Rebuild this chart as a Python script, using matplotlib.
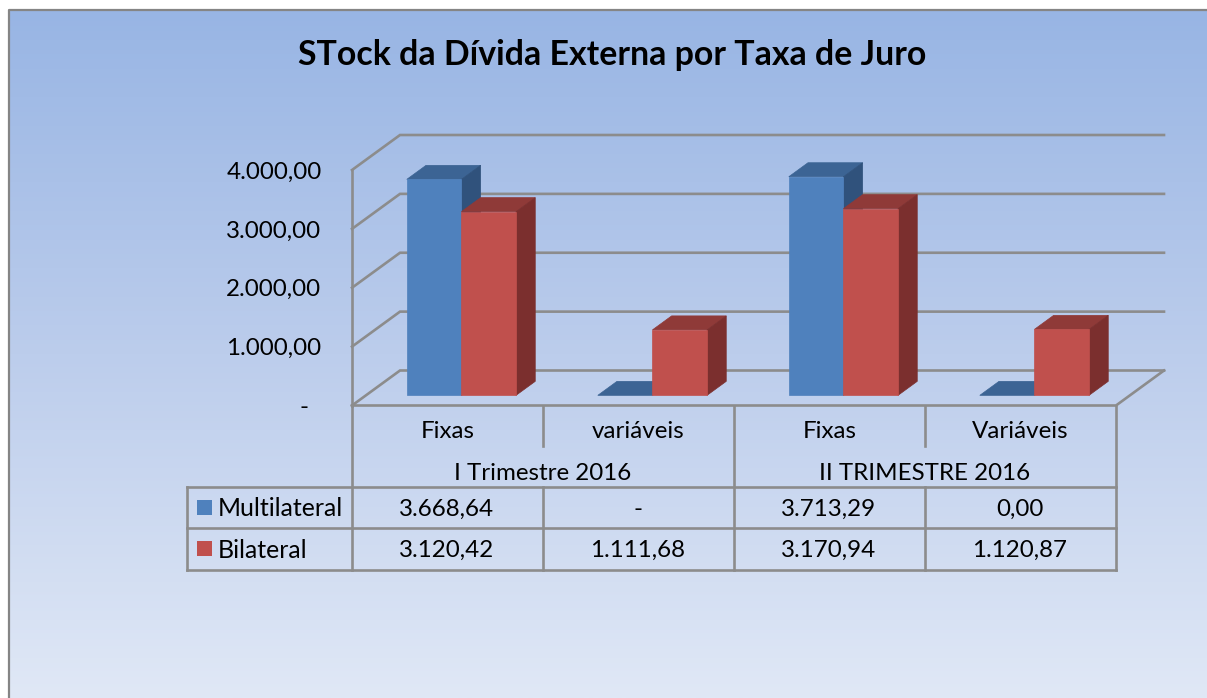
import numpy as np
import matplotlib
matplotlib.use('Agg')
import matplotlib.pyplot as plt
from matplotlib.colors import LinearSegmentedColormap
from matplotlib.patches import Polygon, Rectangle

plt.rcParams['font.family'] = ['Lato', 'DejaVu Sans']

categories = ['Fixas', 'variáveis', 'Fixas', 'Variáveis']
periods = ['I Trimestre 2016', 'II TRIMESTRE 2016']
multilateral = [3668.64, 0.0, 3713.29, 0.0]
bilateral = [3120.42, 1111.68, 3170.94, 1120.87]
multilateral_txt = ['3.668,64', '-', '3.713,29', '0,00']
bilateral_txt = ['3.120,42', '1.111,68', '3.170,94', '1.120,87']
y_ticks = [0, 1000, 2000, 3000, 4000]
y_labels = ['-  ', '1.000,00', '2.000,00', '3.000,00', '4.000,00']

W, H = 1207, 698
LINE = '#8c8c8c'
BLUE = ('#4f81bd', '#3c6494', '#30527c')
RED = ('#c0504d', '#8f3a38', '#7b2f2e')
LW = 1.9

fig = plt.figure(figsize=(W / 100, H / 100), dpi=100, facecolor='white')

# page in pixel coords: background, frame, data table
page = fig.add_axes([0, 0, 1, 1])
page.set_xlim(0, W)
page.set_ylim(H, 0)
page.axis('off')
cmap = LinearSegmentedColormap.from_list('bg', ['#98b5e4', '#bccdec', '#e0e8f6'])
page.imshow(np.linspace(0, 1, 256).reshape(-1, 1), cmap=cmap, aspect='auto',
            extent=(9, W, H, 10), zorder=0)
page.set_xlim(0, W)
page.set_ylim(H, 0)
page.plot([9, 9, W], [H, 10, 10], color='#858585', lw=1.6, zorder=1)

cols = [351.5, 542.5, 733.5, 924.5, 1115.5]
rows = [406, 446, 487, 528, 570]
for y in rows[2:]:
    page.plot([187, cols[-1]], [y, y], color=LINE, lw=LW, zorder=2)
page.plot([187, 187], [rows[2], rows[4]], color=LINE, lw=LW, zorder=2)
for i, x in enumerate(cols):
    if i % 2 == 0:
        page.plot([x, x], [rows[0], rows[4]], color=LINE, lw=LW, zorder=2)
    else:
        page.plot([x, x], [rows[0], rows[1]], color=LINE, lw=LW, zorder=2)
        page.plot([x, x], [rows[2], rows[4]], color=LINE, lw=LW, zorder=2)

FS = 17.4
for i, name in enumerate(periods):
    page.text((cols[2 * i] + cols[2 * i + 2]) / 2, 473.5, name, ha='center', va='center', fontsize=FS)
for i in range(4):
    xc = (cols[i] + cols[i + 1]) / 2
    page.text(xc, 509, multilateral_txt[i], ha='center', va='center', fontsize=FS)
    page.text(xc, 550, bilateral_txt[i], ha='center', va='center', fontsize=FS)

page.add_patch(Rectangle((197, 500), 15, 15, color=BLUE[0], lw=0, zorder=3))
page.add_patch(Rectangle((197, 541), 15, 15, color=RED[0], lw=0, zorder=3))
page.text(218, 509, 'Multilateral', ha='left', va='center', fontsize=17.9)
page.text(218, 550, 'Bilateral', ha='left', va='center', fontsize=17.9)
page.text(612.5, 55, 'STock da Dívida Externa por Taxa de Juro', ha='center', va='center',
          fontsize=24.4, fontweight='bold')

# chart: x in categories, y in values, front plane of the 3D box
ax = fig.add_axes([352 / W, 1 - 405.5 / H, 764 / W, 235.5 / H])
ax.patch.set_visible(False)
ax.set_xlim(0, 4)
ax.set_ylim(0, 4000)
for s in ax.spines.values():
    s.set_visible(False)

DX = 48 / (764 / 4)   # full depth, in categories
DY = 35 / (235.5 / 4000)  # full depth, in values
BAR_W = 0.286


def proj(x, v, d):
    return (x + d * DX, v + d * DY)


def poly(pts, color, z):
    ax.add_patch(Polygon(pts, closed=True, facecolor=color, edgecolor=color, lw=0.5,
                         zorder=z, clip_on=False))


def wire(pts, z=1):
    xs, ys = zip(*pts)
    ax.plot(xs, ys, color=LINE, lw=LW, zorder=z, clip_on=False, solid_joinstyle='miter')


for v in y_ticks:
    wire([proj(0, v, 0), proj(0, v, 1), proj(4, v, 1)])
wire([proj(0, 0, 0), proj(0, 4000, 0)])
wire([proj(0, 0, 0), proj(4, 0, 0), proj(4, 0, 1)])


def bar3d(x, v, shades, z):
    d0, d1 = 0.29, 0.69
    if v > 0:
        poly([proj(x, 0, d0), proj(x + BAR_W, 0, d0), proj(x + BAR_W, v, d0), proj(x, v, d0)], shades[0], z + 2)
        poly([proj(x + BAR_W, 0, d0), proj(x + BAR_W, 0, d1), proj(x + BAR_W, v, d1), proj(x + BAR_W, v, d0)], shades[2], z + 1)
    poly([proj(x, v, d0), proj(x + BAR_W, v, d0), proj(x + BAR_W, v, d1), proj(x, v, d1)], shades[1], z)


for i in range(4):
    left = i + 0.5 - BAR_W
    bar3d(left, multilateral[i], BLUE, 10 + i * 10)
    bar3d(left + BAR_W, bilateral[i], RED, 14 + i * 10)

ax.set_yticks(y_ticks, y_labels)
ax.set_xticks([i + 0.5 for i in range(4)], categories)
ax.tick_params(axis='y', length=0, pad=22, labelsize=FS)
ax.tick_params(axis='x', length=0, pad=11, labelsize=FS)

fig.savefig('out.png', dpi=100, facecolor='white')
